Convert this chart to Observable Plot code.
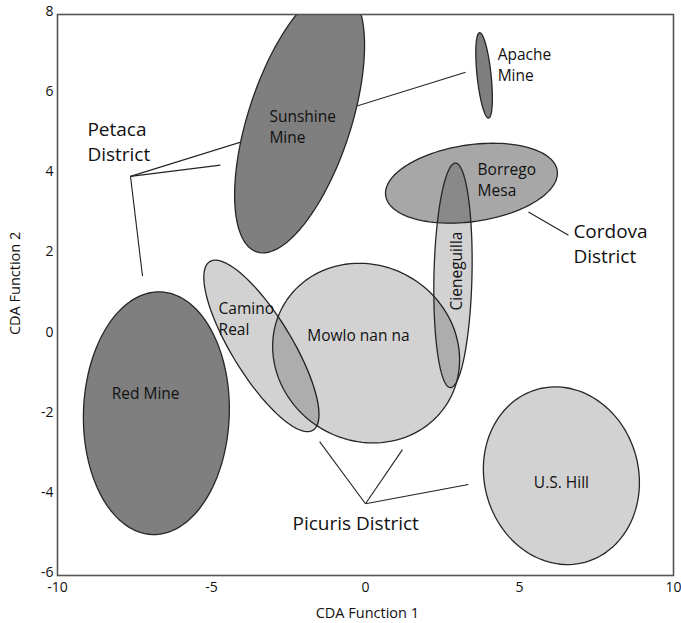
<!DOCTYPE html>
<html><head><meta charset="utf-8">
<script src="https://cdn.jsdelivr.net/npm/d3@7"></script>
<script src="https://cdn.jsdelivr.net/npm/@observablehq/plot@0.6"></script>
<style>body{margin:0;background:#fff;} svg{background:#fff;}</style>
</head><body><div id="chart"></div>
<script>
// Confidence ellipses (data units): centre and two conjugate semi-diameters
const names   = ["Red Mine","Sunshine Mine","Apache Mine","Camino Real","Mowlo nan na","Borrego Mesa","Cieneguilla","U.S. Hill"];
const centerX = [-6.79, -2.14, 3.85, -3.38, 0.02, 3.44, 2.84, 6.36];
const centerY = [-1.95,  5.36, 6.48, -0.27, -0.45, 3.79, 1.49, -3.51];
const axis1X  = [-0.128, -1.390, 0.146, 1.675, 2.645, 2.785, -0.083, 0.760];
const axis1Y  = [-3.028, -3.284, -1.065, -2.104, -1.242, 0.312, -2.802, -2.160];
const axis2X  = [2.366, 1.587, 0.226, 0.831, 1.488, -0.180, 0.617, 2.417];
const axis2Y  = [-0.059, -0.396, 0.018, 0.389, 1.866, 0.947, -0.011, 0.500];
const shade   = ["dark","dark","dark","light","light","medium","light","light"];

// Labels inside ellipses
const labelText   = ["Red Mine","Sunshine\nMine","Apache\nMine","Camino\nReal","Mowlo nan na","Borrego\nMesa","Cieneguilla","U.S. Hill"];
const labelX      = [-7.14, -3.12, 4.29, -4.77, -0.23, 3.64, 2.92, 6.36];
const labelY      = [-1.42,  5.22, 6.78,  0.44,  0.03, 3.90, 1.60, -3.66];
const labelAnchor = ["middle","start","start","start","middle","start","middle","middle"];
const labelRotate = [0, 0, 0, 0, 0, 0, -90, 0];

// District labels
const districtText = ["Petaca\nDistrict","Cordova\nDistrict","Picuris District"];
const districtX    = [-9.03, 6.75, -2.37];
const districtY    = [4.85, 2.31, -4.66];

// Leader lines
const leadX1 = [-7.63, -7.63, -7.63, 5.29, 0.0, 0.0, 0.0];
const leadY1 = [ 3.96,  3.96,  3.96, 3.07, -4.21, -4.21, -4.21];
const leadX2 = [ 3.25, -4.71, -7.24, 6.59, -1.49, 1.20, 3.34];
const leadY2 = [ 6.56,  4.24,  1.47, 2.49, -2.66, -2.86, -3.73];

const xTicks = [-10, -5, 0, 5, 10];
const yTicks = [-6, -4, -2, 0, 2, 4, 6, 8];
const axisTitles = [
  {t: "CDA Function 1", x: 0.06, y: -6.95, r: 0},
  {t: "CDA Function 2", x: -11.36, y: 1.29, r: -90}
];

const FONT = "Open Sans";

const ellipses = names.map((n, i) => {
  const pts = d3.range(0, 121).map(k => {
    const t = 2 * Math.PI * k / 120;
    return {x: centerX[i] + axis1X[i] * Math.cos(t) + axis2X[i] * Math.sin(t),
            y: centerY[i] + axis1Y[i] * Math.cos(t) + axis2Y[i] * Math.sin(t)};
  });
  return {name: n, shade: shade[i], pts};
});

const leaders = leadX1.map((_, i) => ({x1: leadX1[i], y1: leadY1[i], x2: leadX2[i], y2: leadY2[i]}));
const labels = labelText.map((t, i) => ({t, x: labelX[i], y: labelY[i], a: labelAnchor[i], r: labelRotate[i]}));
const districts = districtText.map((t, i) => ({t, x: districtX[i], y: districtY[i]}));

const styleOf = {
  dark:   {fill: "#7f7f7f", fillOpacity: 1},
  medium: {fill: "#000", fillOpacity: 0.345},
  light:  {fill: "#000", fillOpacity: 0.178}
};

const marks = [
  Plot.link(leaders, {x1: "x1", y1: "y1", x2: "x2", y2: "y2", stroke: "#222", strokeWidth: 1.1})
];
for (const e of ellipses) {
  marks.push(Plot.line(e.pts, {
    x: "x", y: "y", curve: "linear-closed",
    ...styleOf[e.shade], stroke: "#262626", strokeWidth: 1.3, clip: true
  }));
}
for (const a of ["start", "middle"]) {
  for (const r of [0, -90]) {
    const sub = labels.filter(d => d.a === a && d.r === r);
    if (!sub.length) continue;
    marks.push(Plot.text(sub, {x: "x", y: "y", text: "t", textAnchor: a, rotate: r,
      lineAnchor: "middle", lineHeight: 1.36, fontSize: 15.5, fontFamily: FONT, fill: "#111"}));
  }
}
marks.push(Plot.text(districts, {x: "x", y: "y", text: "t", textAnchor: "start", lineAnchor: "middle",
  lineHeight: 1.3, fontSize: 19, fontFamily: FONT, fill: "#111"}));
marks.push(Plot.frame({stroke: "#555", strokeWidth: 1.6}));
marks.push(Plot.axisX(xTicks, {tickSize: 0, tickPadding: 7, tickFormat: d => String(d), fontSize: 14, fontFamily: FONT, fill: "#111", label: null}));
marks.push(Plot.axisY(yTicks, {tickSize: 0, tickPadding: 4, dy: -3, tickFormat: d => String(d), fontSize: 14, fontFamily: FONT, fill: "#111", label: null}));
for (const r of [0, -90]) {
  marks.push(Plot.text(axisTitles.filter(d => d.r === r), {x: "x", y: "y", text: "t", rotate: r,
    fontSize: 14.5, fontFamily: FONT, fill: "#111", clip: false}));
}

const chart = Plot.plot({
  width: 681, height: 623,
  marginLeft: 57, marginTop: 14, marginRight: 8, marginBottom: 48,
  x: {domain: [-10, 10]},
  y: {domain: [-6, 8]},
  style: {background: "#fff", fontFamily: FONT},
  marks
});
document.getElementById("chart").appendChild(chart);
</script>
</body></html>
